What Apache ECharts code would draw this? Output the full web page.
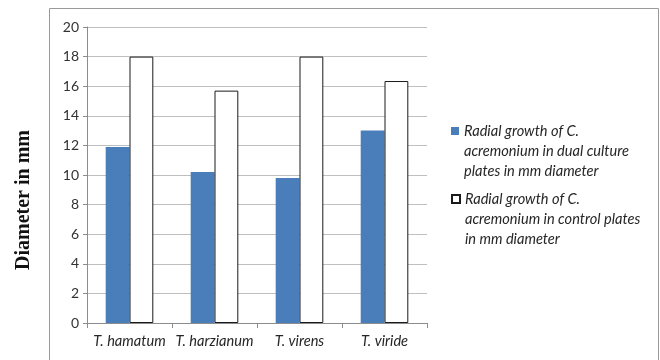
<!DOCTYPE html>
<html>
<head>
<meta charset="utf-8">
<script src="https://cdn.jsdelivr.net/npm/echarts@6/dist/echarts.min.js"></script>
<style>
  html, body { margin: 0; padding: 0; background: #fff; }
  #chart { width: 660px; height: 360px; }
</style>
</head>
<body>
<div id="chart"></div>
<script>
// Trichoderma species tested against C. acremonium
var categories = ['T. hamatum', 'T. harzianum', 'T. virens', 'T. viride'];
// Radial growth (mm diameter)
var dualCulture = [11.9, 10.2, 9.8, 13.0];
var controlPlates = [18.0, 15.7, 18.0, 16.35];
var seriesNames = [
  'Radial growth of C.\nacremonium in dual culture\nplates in mm diameter',
  'Radial growth of C.\nacremonium in control plates\nin mm diameter'
];
var yTicks = { min: 0, max: 20, interval: 2 };

var chart = echarts.init(document.getElementById('chart'));

// Legend text is vertically centred on its swatch; two leading blank lines
// bring the first text line level with the swatch.
var legendText = {
  fontFamily: 'Lato',
  fontStyle: 'italic',
  fontSize: 14.6,
  color: '#262626',
  lineHeight: 20
};
function legendLabel(name) { return '\n\n' + name; }

chart.setOption({
  animation: false,
  backgroundColor: '#fff',
  graphic: [
    {
      type: 'rect',
      shape: { x: 49.5, y: 8.5, width: 609, height: 380 },
      style: { fill: 'none', stroke: '#9a9a9a', lineWidth: 1 },
      silent: true
    },
    {
      type: 'text',
      x: 24, y: 200,
      rotation: Math.PI / 2,
      style: {
        text: 'Diameter in mm',
        font: 'bold 20px "Liberation Serif"',
        fill: '#111',
        align: 'center',
        verticalAlign: 'middle'
      },
      silent: true
    }
  ],
  grid: { left: 87, right: 233, top: 27, bottom: 37 },
  legend: [
    {
      data: [seriesNames[0]],
      left: 451, top: 81, padding: 0,
      itemWidth: 8, itemHeight: 8,
      icon: 'rect',
      formatter: legendLabel,
      textStyle: legendText
    },
    {
      data: [seriesNames[1]],
      left: 451, top: 149, padding: 0,
      itemWidth: 8, itemHeight: 8,
      icon: 'rect',
      formatter: legendLabel,
      textStyle: legendText
    }
  ],
  xAxis: {
    type: 'category',
    data: categories,
    axisLine: { lineStyle: { color: '#8c8c8c' } },
    axisTick: { show: true, length: 5, lineStyle: { color: '#8c8c8c' } },
    axisLabel: {
      interval: 0,
      fontFamily: 'Lato', fontStyle: 'italic', fontSize: 14.6,
      color: '#262626', margin: 11
    },
    splitLine: { show: false }
  },
  yAxis: {
    type: 'value',
    min: yTicks.min, max: yTicks.max, interval: yTicks.interval,
    axisLine: { show: true, lineStyle: { color: '#8c8c8c' } },
    axisTick: { show: true, length: 4, lineStyle: { color: '#8c8c8c' } },
    axisLabel: { fontFamily: 'Lato', fontSize: 14, color: '#333', margin: 8 },
    splitLine: { lineStyle: { color: '#bfbfbf' } }
  },
  series: [
    {
      name: seriesNames[0],
      type: 'bar',
      data: dualCulture,
      barGap: '0%',
      barCategoryGap: '44%',
      itemStyle: { color: '#4a7ebb' }
    },
    {
      name: seriesNames[1],
      type: 'bar',
      data: controlPlates,
      itemStyle: { color: '#ffffff', borderColor: '#1a1a1a', borderWidth: 1 }
    }
  ]
});
</script>
</body>
</html>
